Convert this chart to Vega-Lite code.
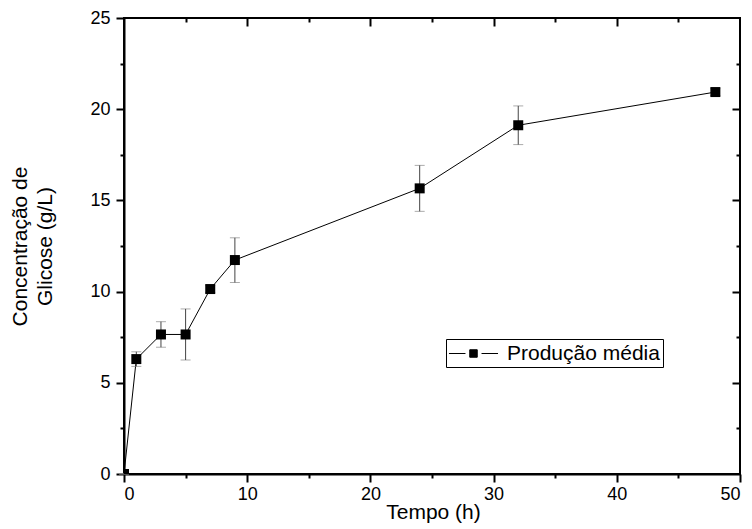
{
  "$schema": "https://vega.github.io/schema/vega-lite/v6.json",
  "width": 616,
  "height": 456,
  "autosize": {"type": "none"},
  "padding": {"left": 124, "top": 18, "right": 12, "bottom": 55},
  "background": "white",
  "config": {
    "font": "Liberation Sans",
    "view": {"stroke": "black", "strokeWidth": 2},
    "axis": {
      "domainColor": "black", "domainWidth": 2, "tickColor": "black", "tickWidth": 2,
      "labelColor": "black", "titleColor": "black", "labelFont": "Liberation Sans", "titleFont": "Liberation Sans",
      "labelFontSize": 18, "titleFontSize": 21, "titleFontWeight": "normal", "grid": false
    }
  },
  "data": {
    "values": [
      {"t": 0, "g": 0, "lo": 0, "hi": 0},
      {"t": 1, "g": 6.3, "lo": 5.9, "hi": 6.7},
      {"t": 3, "g": 7.65, "lo": 6.95, "hi": 8.35},
      {"t": 5, "g": 7.65, "lo": 6.25, "hi": 9.05},
      {"t": 7, "g": 10.14, "lo": 9.95, "hi": 10.33},
      {"t": 9, "g": 11.73, "lo": 10.5, "hi": 12.95},
      {"t": 24, "g": 15.66, "lo": 14.4, "hi": 16.92},
      {"t": 32, "g": 19.12, "lo": 18.06, "hi": 20.18},
      {"t": 48, "g": 20.94, "lo": 20.75, "hi": 21.13}
    ]
  },
  "layer": [
    {
      "mark": {"type": "line", "color": "#333333", "strokeWidth": 1},
      "encoding": {
        "x": {"field": "t", "type": "quantitative", "scale": {"domain": [0, 50], "nice": false},
          "axis": {"orient": "bottom", "title": "Tempo (h)", "values": [0,10,20,30,40,50],
            "tickSize": 8, "labelPadding": 3, "titleX": 309, "titleY": 27, "titleBaseline": "top"}},
        "y": {"field": "g", "type": "quantitative", "scale": {"domain": [0, 25], "nice": false},
          "axis": {"orient": "left", "title": ["Concentração de", "Glicose (g/L)"], "values": [0,5,10,15,20,25],
            "tickSize": 8, "labelPadding": 6, "titlePadding": 34, "titleLineHeight": 25}},
        "color": {"datum": "Produção média", "type": "nominal",
          "scale": {"range": ["black"]},
          "legend": {"title": null, "orient": "none", "legendX": 322, "legendY": 321,
            "strokeColor": "black", "padding": 3, "labelFontSize": 21, "labelFont": "Liberation Sans", "labelColor": "black",
            "symbolType": "M-2.23,0H-0.73M0.73,0H2.23M-0.34,-0.34H0.34V0.34H-0.34Z",
            "symbolSize": 484, "symbolOffset": 13, "symbolFillColor": "black", "symbolStrokeColor": "black", "symbolStrokeWidth": 1,
            "labelOffset": 22}}
      }
    },
    {
      "mark": {"type": "errorbar", "ticks": {"color": "#888888", "size": 10}, "rule": {"color": "#444444", "strokeWidth": 1}},
      "encoding": {
        "x": {"field": "t", "type": "quantitative",
          "axis": {"orient": "top", "title": null, "labels": false, "domain": false, "values": [10,20,30,40], "tickSize": 8, "offset": -8}},
        "y": {"field": "lo", "type": "quantitative",
          "axis": {"orient": "right", "title": null, "labels": false, "domain": false, "values": [5,10,15,20], "tickSize": 8, "offset": -8}},
        "y2": {"field": "hi"}
      }
    },
    {
      "mark": {"type": "square", "color": "black", "opacity": 1, "size": 100, "clip": true},
      "encoding": {
        "x": {"field": "t", "type": "quantitative",
          "axis": {"orient": "top", "title": null, "labels": false, "domain": false, "values": [5,15,25,35,45], "tickSize": 4, "offset": -4}},
        "y": {"field": "g", "type": "quantitative",
          "axis": {"orient": "right", "title": null, "labels": false, "domain": false, "values": [2.5,7.5,12.5,17.5,22.5], "tickSize": 4, "offset": -4}}
      }
    },
    {
      "mark": {"type": "point", "opacity": 0},
      "encoding": {
        "x": {"field": "t", "type": "quantitative",
          "axis": {"orient": "bottom", "title": null, "labels": false, "domain": false, "values": [5,15,25,35,45], "tickSize": 4}},
        "y": {"field": "g", "type": "quantitative",
          "axis": {"orient": "left", "title": null, "labels": false, "domain": false, "values": [2.5,7.5,12.5,17.5,22.5], "tickSize": 4}}
      }
    }
  ],
  "resolve": {"axis": {"x": "independent", "y": "independent"}}
}
